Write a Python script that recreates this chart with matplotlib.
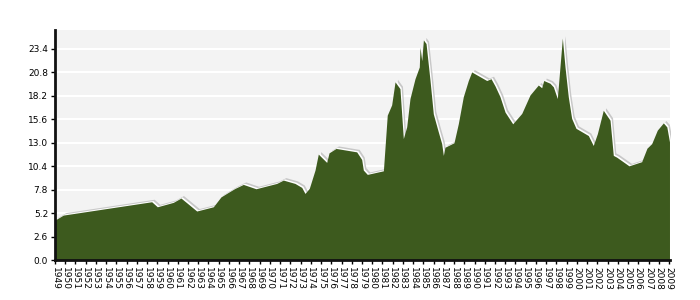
import matplotlib
matplotlib.use("Agg")
import matplotlib.pyplot as plt
import matplotlib.transforms as mtransforms

# series (fractional year, value)
years = [1949.0, 1949.81, 1958.45, 1959.0, 1960.56, 1961.31, 1962.03, 1962.85,
         1964.47, 1965.22, 1965.94, 1966.59, 1967.4, 1968.64, 1970.67, 1971.31,
         1972.45, 1973.11, 1973.43, 1973.85, 1974.41, 1974.73, 1975.55, 1975.78,
         1976.46, 1978.48, 1978.97, 1979.13, 1979.52, 1981.09, 1981.47, 1981.9,
         1982.23, 1982.71, 1983.04, 1983.37, 1983.69, 1984.18, 1984.6, 1984.67,
         1984.84, 1985.0, 1985.26, 1985.65, 1985.97, 1986.46, 1986.79, 1986.95,
         1987.11, 1987.99, 1988.41, 1988.9, 1989.39, 1989.72, 1991.19, 1991.61,
         1992.0, 1992.49, 1992.98, 1993.73, 1994.61, 1995.42, 1996.23, 1996.56,
         1996.76, 1997.37, 1997.7, 1998.09, 1998.58, 1998.84, 1999.16, 1999.49,
         1999.91, 2001.12, 2001.6, 2002.0, 2002.58, 2003.24, 2003.56, 2003.89,
         2005.09, 2006.33, 2006.85, 2007.31, 2007.86, 2008.45, 2008.79, 2009.05]
values = [4.43, 4.98, 6.46, 5.9, 6.39, 6.87, 6.2, 5.43,
          5.9, 7.0, 7.5, 7.94, 8.38, 7.9, 8.49, 8.86,
          8.49, 8.05, 7.38, 7.94, 9.97, 11.74, 10.82, 11.88,
          12.37, 11.99, 11.15, 9.97, 9.49, 9.89, 16.06, 17.2,
          19.75, 19.0, 13.47, 14.77, 17.9, 20.1, 21.4, 23.6,
          22.1, 24.4, 24.0, 19.9, 16.2, 14.2, 12.9, 11.6,
          12.5, 13.0, 15.1, 18.1, 19.9, 20.85, 19.9, 20.1,
          19.3, 18.1, 16.4, 15.1, 16.25, 18.3, 19.4, 19.1,
          19.9, 19.6, 19.2, 17.9, 24.6, 21.4, 18.1, 15.7,
          14.6, 13.8, 12.7, 14.0, 16.6, 15.5, 11.6, 11.4,
          10.44, 10.9, 12.4, 12.9, 14.4, 15.2, 14.76, 13.1]

year_ticks = list(range(1949, 2010))
y_ticks = [0.0, 2.6, 5.2, 7.8, 10.4, 13.0, 15.6, 18.2, 20.8, 23.4]

green = '#3d5a1e'

fig = plt.figure(figsize=(7, 3), dpi=100)
ax = fig.add_axes([55/700, 40/300, 615/700, 230/300])
ax.set_facecolor('#f3f3f3')

# shadow + white outline, then the area itself
shadow = mtransforms.offset_copy(ax.transData, fig=fig, x=2.5, y=2.5, units='dots')
halo = mtransforms.offset_copy(ax.transData, fig=fig, x=1.2, y=1.2, units='dots')
ax.fill_between(years, 0, values, color='#c8c8c8', lw=0, transform=shadow, zorder=2)
ax.fill_between(years, 0, values, color='white', lw=0, transform=halo, zorder=3)
ax.fill_between(years, 0, values, color=green, lw=0, zorder=4)

ax.set_xlim(1949, 2009.1)
ax.set_ylim(0, 25.5)

ax.set_yticks(y_ticks)
ax.set_yticklabels(['%.1f' % v for v in y_ticks], fontsize=6.5)
ax.set_xticks(year_ticks)
ax.set_xticklabels([str(y) for y in year_ticks], rotation=270, fontsize=6.5,
                   va='top', ha='center')
ax.tick_params(axis='both', length=3, width=1, pad=2, color='black')

ax.grid(axis='y', color='white', lw=1.5, zorder=1)
ax.set_axisbelow(True)
for s in ['top', 'right']:
    ax.spines[s].set_visible(False)
for s in ['left', 'bottom']:
    ax.spines[s].set_linewidth(2)
    ax.spines[s].set_color('#111111')
    ax.spines[s].set_zorder(6)

plt.savefig('out.png', dpi=100)
